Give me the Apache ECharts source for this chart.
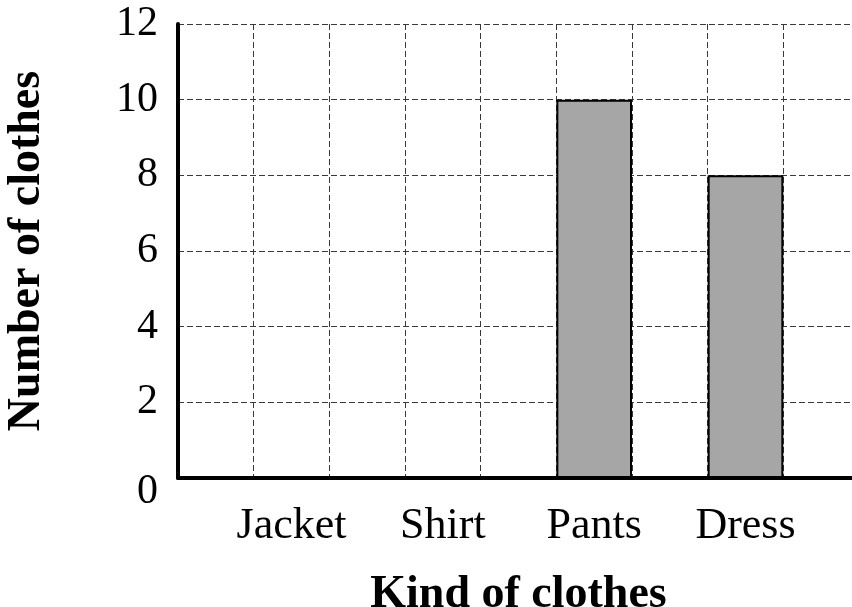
<!DOCTYPE html>
<html>
<head>
<meta charset="utf-8">
<title>Kind of clothes</title>
<script src="https://cdn.jsdelivr.net/npm/echarts@6/dist/echarts.min.js"></script>
<style>
  html, body { margin: 0; padding: 0; background: #fff; }
  #chart { width: 852px; height: 607px; }
</style>
</head>
<body>
<div id="chart"></div>
<script>
// Clothes counted per kind
const categories = ['Jacket', 'Shirt', 'Pants', 'Dress'];
const counts = [0, 0, 10, 8];
const yTicks = { min: 0, max: 12, step: 2 };

// Each kind sits in every other column of the grid, with an empty column between
const slots = [];
const slotValues = [];
categories.forEach((name, i) => {
  slots.push('');
  slotValues.push(null);
  slots.push(name);
  slotValues.push(counts[i]);
});
slots.push('');
slotValues.push(null);

const serif = "'Liberation Serif', 'Times New Roman', Times, serif";
const gridDash = { color: '#3a3a3a', width: 1, type: [6, 3] };

const chart = echarts.init(document.getElementById('chart'), null, { renderer: 'canvas' });
chart.setOption({
  animation: false,
  backgroundColor: '#ffffff',
  grid: { left: 178, top: 24, width: 681, height: 454, containLabel: false, outerBoundsMode: 'none' },
  xAxis: {
    type: 'category',
    data: slots,
    boundaryGap: true,
    name: 'Kind of clothes',
    nameLocation: 'middle',
    nameGap: 94,
    nameTextStyle: { fontFamily: serif, fontSize: 46, fontWeight: 'bold', color: '#000' },
    axisLine: { show: true, lineStyle: { color: '#000', width: 4 } },
    axisTick: { show: false },
    axisLabel: { interval: 0, margin: 26, fontFamily: serif, fontSize: 44, color: '#000' },
    splitLine: { show: true, interval: 0, lineStyle: gridDash }
  },
  yAxis: {
    type: 'value',
    min: yTicks.min,
    max: yTicks.max,
    interval: yTicks.step,
    name: 'Number of clothes',
    nameLocation: 'middle',
    nameGap: 128,
    nameRotate: 90,
    nameTextStyle: { fontFamily: serif, fontSize: 46, fontWeight: 'bold', color: '#000' },
    axisLine: { show: true, lineStyle: { color: '#000', width: 4 } },
    axisTick: { show: false },
    axisLabel: {
      margin: 20,
      fontFamily: serif,
      fontSize: 42,
      color: '#000',
      formatter: v => (v === 0 ? '{zero|0}' : String(v)),
      rich: { zero: { fontFamily: serif, fontSize: 42, color: '#000', padding: [28, 0, 0, 0] } }
    },
    splitLine: { show: true, lineStyle: gridDash }
  },
  series: [{
    type: 'bar',
    data: slotValues,
    barWidth: '100%',
    itemStyle: { color: '#a6a6a6', borderColor: '#000', borderWidth: 2 }
  }]
});
</script>
</body>
</html>
